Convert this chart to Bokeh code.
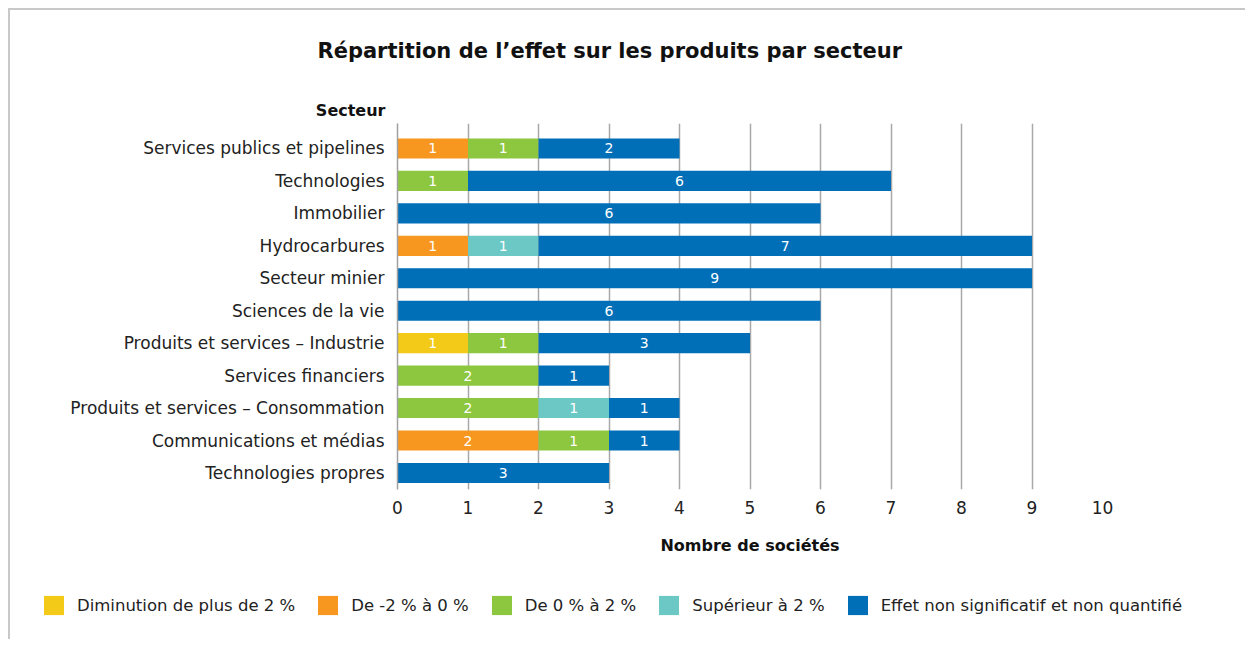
import numpy as np
from bokeh.plotting import figure
from bokeh.layouts import column
from bokeh.models import ColumnDataSource, Range1d, FixedTicker, Title, Legend
from bokeh.core.properties import value
from bokeh.embed import file_html
from bokeh.resources import INLINE

sectors = [
    "Services publics et pipelines",
    "Technologies",
    "Immobilier",
    "Hydrocarbures",
    "Secteur minier",
    "Sciences de la vie",
    "Produits et services – Industrie",
    "Services financiers",
    "Produits et services – Consommation",
    "Communications et médias",
    "Technologies propres",
]
series_names = [
    "Diminution de plus de 2 %",
    "De -2 % à 0 %",
    "De 0 % à 2 %",
    "Supérieur à 2 %",
    "Effet non significatif et non quantifié",
]
diminution = [0, 0, 0, 0, 0, 0, 1, 0, 0, 0, 0]
moins2_0 = [1, 0, 0, 1, 0, 0, 0, 0, 0, 2, 0]
zero_2 = [1, 1, 0, 0, 0, 0, 1, 2, 2, 1, 0]
superieur = [0, 0, 0, 1, 0, 0, 0, 0, 1, 0, 0]
non_signif = [2, 6, 6, 7, 9, 6, 3, 1, 1, 1, 3]
x_ticks = list(range(0, 11))

colors = ["#F2CA17", "#F7971F", "#8DC63F", "#6CC8C4", "#006FB8"]
FONT = "DejaVu Sans"

series = [diminution, moins2_0, zero_2, superieur, non_signif]
keys = ["s0", "s1", "s2", "s3", "s4"]
ypos = list(range(len(sectors)))
data = {"y": ypos}
for k, s in zip(keys, series):
    data[k] = s
source = ColumnDataSource(data)

p = figure(
    width=1235, height=559,
    x_range=Range1d(0, 10),
    y_range=Range1d(10.51, -0.77),
    output_backend="svg", toolbar_location=None,
    min_border_left=387, min_border_right=143,
    min_border_top=113, min_border_bottom=80,
)
p.outline_line_color = None
p.background_fill_color = "white"
p.border_fill_color = "white"

renderers = p.hbar_stack(keys, y="y", height=0.62, color=colors, line_color=None, source=source)

# bar value labels
cum = np.zeros(len(sectors))
for s in series:
    arr = np.array(s, dtype=float)
    mask = arr > 0
    xs = (cum + arr / 2)[mask]
    ys = np.array(ypos)[mask]
    txt = [str(int(v)) for v in arr[mask]]
    p.text(x=xs, y=ys, text=txt, text_color="white", text_font=value(FONT),
           text_font_size="14px", text_align="center", text_baseline="middle")
    cum = cum + arr

# axes
p.xaxis.ticker = FixedTicker(ticks=x_ticks)
p.xaxis.axis_line_color = None
p.xaxis.major_tick_line_color = None
p.xaxis.minor_tick_line_color = None
p.xaxis.major_label_text_font = FONT
p.xaxis.major_label_text_font_size = "17px"
p.xaxis.major_label_text_color = "#222222"
p.xaxis.major_label_standoff = 5
p.xaxis.axis_label = "Nombre de sociétés"
p.xaxis.axis_label_text_font = FONT
p.xaxis.axis_label_text_font_style = "bold"
p.xaxis.axis_label_text_font_size = "16px"
p.xaxis.axis_label_text_color = "#111111"
p.xaxis.axis_label_standoff = 19

p.yaxis.ticker = FixedTicker(ticks=ypos)
p.yaxis.major_label_overrides = {i: s for i, s in enumerate(sectors)}
p.yaxis.axis_line_color = "#a0a0a0"
p.yaxis.axis_line_width = 1.5
p.yaxis.major_tick_line_color = None
p.yaxis.minor_tick_line_color = None
p.yaxis.major_label_text_font = FONT
p.yaxis.major_label_text_font_size = "17px"
p.yaxis.major_label_text_color = "#222222"
p.yaxis.major_label_standoff = 7

p.xgrid.ticker = FixedTicker(ticks=x_ticks[1:])
p.xgrid.grid_line_color = "#a8a8a8"
p.xgrid.grid_line_width = 1.5
p.ygrid.grid_line_color = None

# stacked from the frame outward: "Secteur", a spacer, then the main title
p.add_layout(Title(text="Secteur", align="right", offset=717, standoff=8,
                   text_font=FONT, text_font_style="bold", text_font_size="16px",
                   text_color="#111111"), "above")
p.add_layout(Title(text=" ", align="left", standoff=29, text_font=FONT,
                   text_font_size="1px"), "above")
p.add_layout(Title(text="Répartition de l’effet sur les produits par secteur",
                   align="left", offset=-80, standoff=0,
                   text_font=FONT, text_font_style="bold", text_font_size="21px",
                   text_color="#111111"), "above")

# legend strip below the chart (proxy swatches, hidden from view)
pl = figure(width=1235, height=70, x_range=Range1d(0, 1), y_range=Range1d(0, 1),
            output_backend="svg", toolbar_location=None,
            x_axis_type=None, y_axis_type=None,
            min_border_left=0, min_border_right=0, min_border_top=0, min_border_bottom=0)
pl.outline_line_color = None
pl.grid.visible = False
leg_renderers = []
for c, s in zip(colors, series):
    r = pl.hbar(y=[0], right=[sum(s)], height=0.5, color=c, line_color=None)
    r.visible = False
    leg_renderers.append(r)
legend = Legend(
    items=[(name, [r]) for name, r in zip(series_names, leg_renderers)],
    orientation="horizontal", location=(31, 22),
    glyph_width=25, glyph_height=24, label_standoff=11, spacing=20,
    padding=0, margin=0, border_line_color=None, background_fill_alpha=0,
    inactive_fill_alpha=0,
    label_text_font=FONT, label_text_font_size="16.5px", label_text_color="#222222",
)
pl.add_layout(legend, "center")

layout = column(p, column(pl, spacing=0), spacing=0,
                styles={"border-top": "2px solid #c8c8c8", "border-left": "2px solid #c8c8c8",
                        "margin-top": "8px", "margin-left": "8px"})

open("out.html", "w").write(file_html(layout, INLINE))
